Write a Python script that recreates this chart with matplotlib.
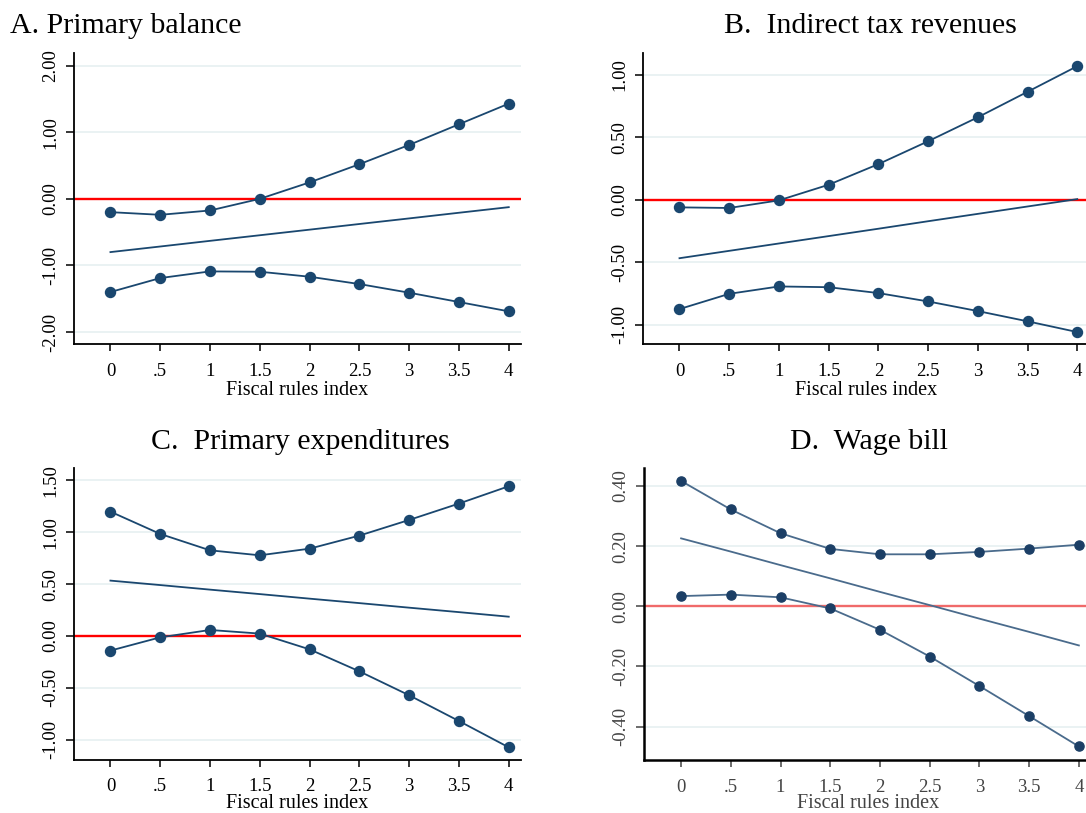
import matplotlib
matplotlib.use("Agg")
import matplotlib.pyplot as plt

plt.rcParams['font.family'] = ['Liberation Serif', 'DejaVu Serif']

# fiscal rules index (x axis)
fri = [0, 0.5, 1, 1.5, 2, 2.5, 3, 3.5, 4]
fri_labels = ['0', '.5', '1', '1.5', '2', '2.5', '3', '3.5', '4']

# A. Primary balance
pb_upper = [-0.20, -0.24, -0.175, 0.0, 0.247, 0.52, 0.81, 1.12, 1.43]
pb_mid = [-0.80, -0.716, -0.631, -0.547, -0.463, -0.378, -0.294, -0.209, -0.125]
pb_lower = [-1.40, -1.19, -1.09, -1.095, -1.17, -1.28, -1.41, -1.55, -1.69]
pb_ticks = [-2, -1, 0, 1, 2]

# B. Indirect tax revenues
itr_upper = [-0.061, -0.066, -0.005, 0.12, 0.285, 0.468, 0.66, 0.864, 1.069]
itr_mid = [-0.468, -0.409, -0.350, -0.291, -0.232, -0.172, -0.113, -0.054, 0.005]
itr_lower = [-0.875, -0.753, -0.694, -0.70, -0.747, -0.814, -0.891, -0.973, -1.059]
itr_ticks = [-1, -0.5, 0, 0.5, 1]

# C. Primary expenditures
pe_upper = [1.199, 0.984, 0.826, 0.778, 0.842, 0.968, 1.119, 1.277, 1.444]
pe_mid = [0.534, 0.491, 0.447, 0.404, 0.360, 0.317, 0.273, 0.230, 0.186]
pe_lower = [-0.141, -0.013, 0.058, 0.023, -0.129, -0.341, -0.572, -0.82, -1.074]
pe_ticks = [-1, -0.5, 0, 0.5, 1, 1.5]

# D. Wage bill
wb_upper = [0.417, 0.322, 0.243, 0.191, 0.173, 0.173, 0.181, 0.192, 0.205]
wb_mid = [0.226, 0.182, 0.137, 0.093, 0.048, 0.004, -0.041, -0.085, -0.130]
wb_lower = [0.034, 0.039, 0.030, -0.007, -0.078, -0.167, -0.265, -0.365, -0.466]
wb_ticks = [-0.4, -0.2, 0, 0.2, 0.4]

navy = '#1a476f'
grid_col = '#eaf2f3'

W, H = 1086, 813
fig = plt.figure(figsize=(W / 100, H / 100), dpi=100)


def px_axes(left, top, right, bottom):
    return fig.add_axes([left / W, 1 - bottom / H, (right - left) / W, (bottom - top) / H])


def panel(ax, upper, mid, lower, ticks, ylim, line_col=navy, mark_col=navy,
          red='#ff0000', tick_col='black', spine_w=1.3, msize=7.2, lpad=1):
    for t in ticks:
        ax.axhline(t, color=grid_col, lw=1.4, zorder=0)
    ax.axhline(0, color=red, lw=1.7, zorder=1)
    ax.plot(fri, upper, color=line_col, lw=1.3, marker='o', ms=msize,
            mfc=mark_col, mec=mark_col, zorder=3)
    ax.plot(fri, lower, color=line_col, lw=1.3, marker='o', ms=msize,
            mfc=mark_col, mec=mark_col, zorder=3)
    ax.plot(fri, mid, color=line_col, lw=1.3, zorder=2)
    ax.set_xlim(-0.37, 4.125)
    ax.set_ylim(*ylim)
    ax.set_xticks(fri)
    ax.set_xticklabels(fri_labels)
    ax.set_yticks(ticks)
    ax.set_yticklabels(['%.2f' % t for t in ticks], rotation=90, va='center')
    ax.tick_params(axis='x', length=5, width=1.1, pad=8.5, labelsize=13.5,
                   colors=tick_col)
    ax.tick_params(axis='y', length=5.5, width=1.1, pad=5, labelsize=13.5,
                   colors=tick_col)
    for s in ['top', 'right']:
        ax.spines[s].set_visible(False)
    for s in ['left', 'bottom']:
        ax.spines[s].set_linewidth(spine_w)
        ax.spines[s].set_color('black')
    ax.set_xlabel('Fiscal rules index', fontsize=14.5, labelpad=lpad, color=tick_col)
    ax.set_facecolor('white')


axA = px_axes(73.6, 53.3, 521.2, 344.3)
panel(axA, pb_upper, pb_mid, pb_lower, pb_ticks, (-2.185, 2.186))

axB = px_axes(642.7, 53.3, 1089.7, 344.3)
panel(axB, itr_upper, itr_mid, itr_lower, itr_ticks, (-1.157, 1.172))

axC = px_axes(73.6, 468.3, 521.2, 759.7)
panel(axC, pe_upper, pe_mid, pe_lower, pe_ticks, (-1.193, 1.617), lpad=-1)

axD = px_axes(644.3, 468.3, 1091.3, 760)
panel(axD, wb_upper, wb_mid, wb_lower, wb_ticks, (-0.511, 0.459),
      line_col='#4a6b8c', mark_col='#1c3f66', red='#f06a6a',
      tick_col='#444444', spine_w=1.8, msize=6.6, lpad=-1)

fig.text(10 / W, 1 - 33 / H, 'A. Primary balance', fontsize=21.5, ha='left', va='baseline')
fig.text(870 / W, 1 - 33 / H, 'B.  Indirect tax revenues', fontsize=21.5, ha='center', va='baseline')
fig.text(300 / W, 1 - 449 / H, 'C.  Primary expenditures', fontsize=21.5, ha='center', va='baseline')
fig.text(869 / W, 1 - 449 / H, 'D.  Wage bill', fontsize=21.5, ha='center', va='baseline')

fig.savefig('out.png', dpi=100, facecolor='white')
